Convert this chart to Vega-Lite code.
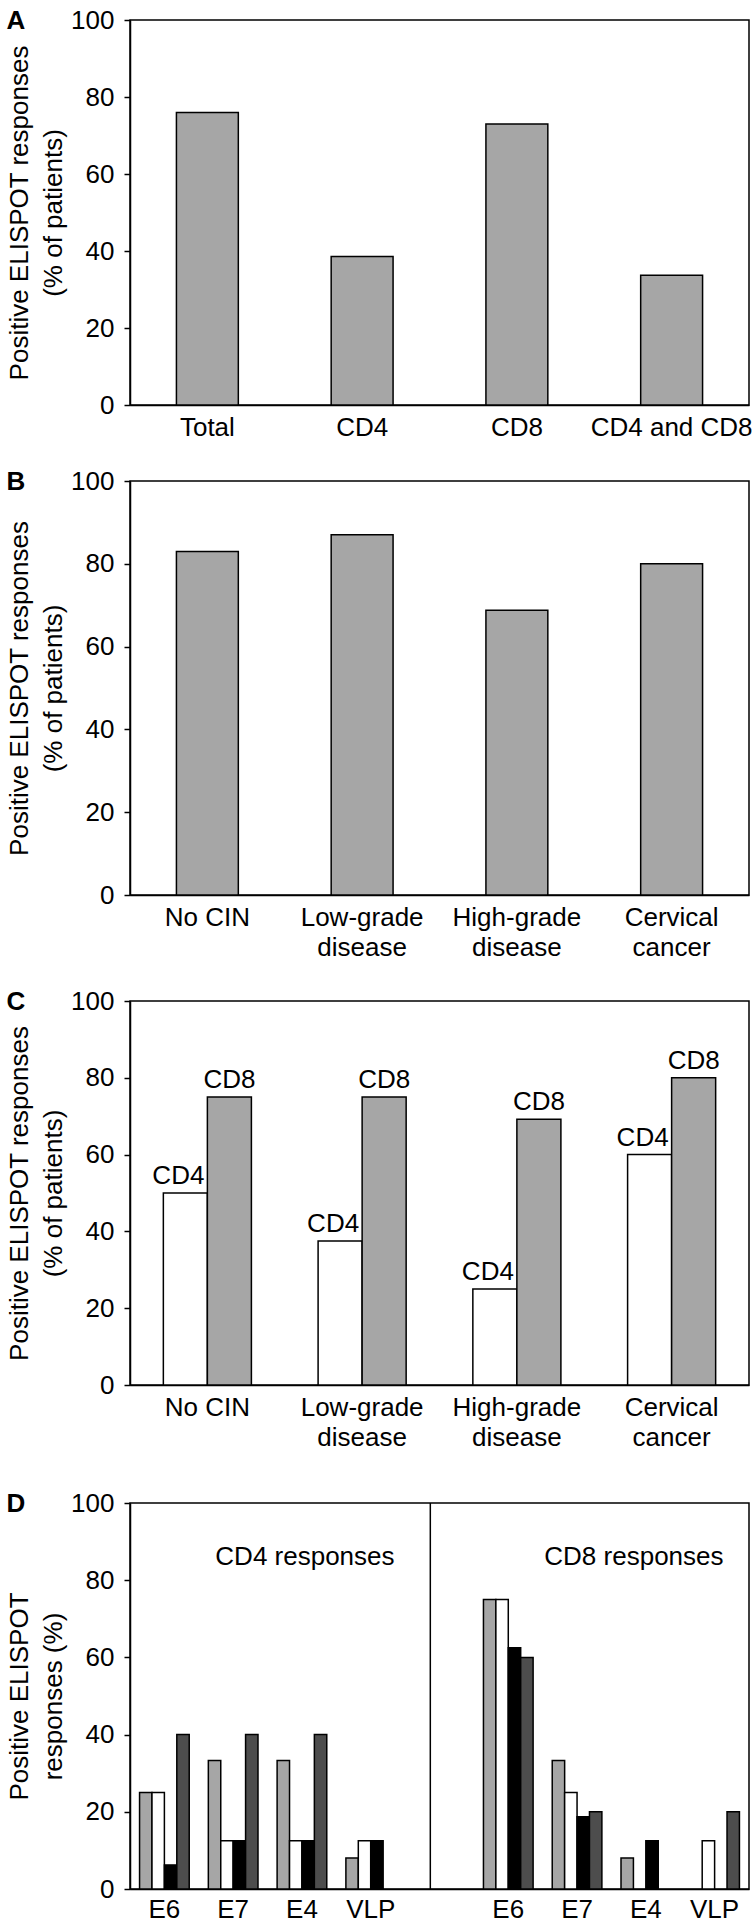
{
  "$schema": "https://vega.github.io/schema/vega-lite/v6.json",
  "padding": {"left": 5, "top": 6, "right": 0, "bottom": 0},
  "config": {
    "font": "Liberation Sans",
    "view": {"stroke": "black", "strokeWidth": 1.5},
    "axis": {"labelFont": "Liberation Sans", "labelFontSize": 26, "labelColor": "black", "titleFont": "Liberation Sans", "titleFontSize": 26, "titleFontWeight": "normal", "titleColor": "black", "domainColor": "black", "domainWidth": 1.5, "tickColor": "black", "tickWidth": 1.5, "grid": false, "labelOverlap": false},
    "axisY": {"tickSize": 6, "labelPadding": 10, "titlePadding": 4, "titleLineHeight": 34},
    "axisX": {"ticks": false, "labelAngle": 0, "labelPadding": 9, "labelLineHeight": 30, "title": null},
    "title": {"fontSize": 26, "fontWeight": "bold", "anchor": "start", "frame": "bounds", "baseline": "top", "offset": -27, "color": "black"}
  },
  "spacing": 26,
  "resolve": {"scale": {"color": "independent", "xOffset": "independent"}},
  "vconcat": [
    {
      "title": {"text": "A"},
      "width": 619, "height": 385,
      "data": {"values": [
        {"group": "Total", "value": 76},
        {"group": "CD4", "value": 38.6},
        {"group": "CD8", "value": 73},
        {"group": "CD4 and CD8", "value": 33.7}
      ]},
      "mark": {"type": "bar", "color": "#a6a6a6", "stroke": "black", "strokeWidth": 1.5},
      "encoding": {
        "x": {"field": "group", "type": "nominal", "sort": null, "scale": {"paddingInner": 0.6, "paddingOuter": 0.3}, "axis": {"title": null}},
        "y": {"field": "value", "type": "quantitative", "scale": {"domain": [0, 100], "nice": false}, "axis": {"title": ["Positive ELISPOT responses", "(% of patients)"], "values": [0, 20, 40, 60, 80, 100]}}
      }
    },
    {
      "title": {"text": "B"},
      "width": 619, "height": 414,
      "data": {"values": [
        {"group": "No CIN", "value": 83},
        {"group": "Low-grade|disease", "value": 87},
        {"group": "High-grade|disease", "value": 68.8},
        {"group": "Cervical|cancer", "value": 80}
      ]},
      "mark": {"type": "bar", "color": "#a6a6a6", "stroke": "black", "strokeWidth": 1.5},
      "encoding": {
        "x": {"field": "group", "type": "nominal", "sort": null, "scale": {"paddingInner": 0.6, "paddingOuter": 0.3}, "axis": {"title": null, "labelExpr": "split(datum.label, '|')"}},
        "y": {"field": "value", "type": "quantitative", "scale": {"domain": [0, 100], "nice": false}, "axis": {"title": ["Positive ELISPOT responses", "(% of patients)"], "values": [0, 20, 40, 60, 80, 100]}}
      }
    },
    {
      "spacing": 38,
      "resolve": {"scale": {"color": "independent", "xOffset": "independent"}},
      "vconcat": [
        {
          "title": {"text": "C"},
          "width": 619, "height": 384,
          "data": {"values": [
            {"group": "No CIN", "type": "CD4", "value": 50},
            {"group": "No CIN", "type": "CD8", "value": 75},
            {"group": "Low-grade|disease", "type": "CD4", "value": 37.5},
            {"group": "Low-grade|disease", "type": "CD8", "value": 75},
            {"group": "High-grade|disease", "type": "CD4", "value": 25},
            {"group": "High-grade|disease", "type": "CD8", "value": 69.2},
            {"group": "Cervical|cancer", "type": "CD4", "value": 60},
            {"group": "Cervical|cancer", "type": "CD8", "value": 80}
          ]},
          "encoding": {
            "x": {"field": "group", "type": "nominal", "sort": null, "scale": {"paddingInner": 0.431, "paddingOuter": 0.2155}, "axis": {"title": null, "labelExpr": "split(datum.label, '|')"}},
            "xOffset": {"field": "type", "type": "nominal", "scale": {"domain": ["CD4", "CD8"], "paddingInner": 0, "paddingOuter": 0}},
            "y": {"field": "value", "type": "quantitative", "scale": {"domain": [0, 100], "nice": false}, "axis": {"title": ["Positive ELISPOT responses", "(% of patients)"], "values": [0, 20, 40, 60, 80, 100]}}
          },
          "layer": [
            {
              "mark": {"type": "bar", "stroke": "black", "strokeWidth": 1.5},
              "encoding": {"color": {"field": "type", "type": "nominal", "scale": {"domain": ["CD4", "CD8"], "range": ["#ffffff", "#a6a6a6"]}, "legend": null}}
            },
            {
              "transform": [{"filter": "datum.type == 'CD8'"}],
              "mark": {"type": "text", "fontSize": 26, "baseline": "alphabetic", "dy": -9, "color": "black"},
              "encoding": {"text": {"field": "type"}}
            },
            {
              "transform": [{"filter": "datum.type == 'CD4'"}],
              "mark": {"type": "text", "fontSize": 26, "baseline": "alphabetic", "dy": -9, "dx": -7, "color": "black"},
              "encoding": {"text": {"field": "type"}}
            }
          ]
        },
        {
          "title": {"text": "D"},
          "width": 619, "height": 386,
          "data": {"values": [
            {"cat": "L-E6", "series": "No CIN", "value": 25},
            {"cat": "L-E6", "series": "Low-grade disease", "value": 25},
            {"cat": "L-E6", "series": "High-grade disease", "value": 6.25},
            {"cat": "L-E6", "series": "Cervical cancer", "value": 40},
            {"cat": "L-E7", "series": "No CIN", "value": 33.3},
            {"cat": "L-E7", "series": "Low-grade disease", "value": 12.5},
            {"cat": "L-E7", "series": "High-grade disease", "value": 12.5},
            {"cat": "L-E7", "series": "Cervical cancer", "value": 40},
            {"cat": "L-E4", "series": "No CIN", "value": 33.3},
            {"cat": "L-E4", "series": "Low-grade disease", "value": 12.5},
            {"cat": "L-E4", "series": "High-grade disease", "value": 12.5},
            {"cat": "L-E4", "series": "Cervical cancer", "value": 40},
            {"cat": "L-VLP", "series": "No CIN", "value": 8},
            {"cat": "L-VLP", "series": "Low-grade disease", "value": 12.5},
            {"cat": "L-VLP", "series": "High-grade disease", "value": 12.5},
            {"cat": "R-E6", "series": "No CIN", "value": 75},
            {"cat": "R-E6", "series": "Low-grade disease", "value": 75},
            {"cat": "R-E6", "series": "High-grade disease", "value": 62.5},
            {"cat": "R-E6", "series": "Cervical cancer", "value": 60},
            {"cat": "R-E7", "series": "No CIN", "value": 33.3},
            {"cat": "R-E7", "series": "Low-grade disease", "value": 25},
            {"cat": "R-E7", "series": "High-grade disease", "value": 18.75},
            {"cat": "R-E7", "series": "Cervical cancer", "value": 20},
            {"cat": "R-E4", "series": "No CIN", "value": 8},
            {"cat": "R-E4", "series": "High-grade disease", "value": 12.5},
            {"cat": "R-VLP", "series": "Low-grade disease", "value": 12.5},
            {"cat": "R-VLP", "series": "Cervical cancer", "value": 20}
          ]},
          "layer": [
            {
              "mark": {"type": "bar", "stroke": "black", "strokeWidth": 1.5},
              "encoding": {
                "x": {"field": "cat", "type": "nominal", "scale": {"domain": ["L-E6", "L-E7", "L-E4", "L-VLP", "gap", "R-E6", "R-E7", "R-E4", "R-VLP"], "paddingInner": 0.278, "paddingOuter": 0.139}, "axis": {"title": null, "labelPadding": 7, "labelExpr": "datum.label == 'gap' ? '' : substring(datum.label, 2)"}},
                "xOffset": {"field": "series", "type": "nominal", "scale": {"domain": ["No CIN", "Low-grade disease", "High-grade disease", "Cervical cancer"], "paddingInner": 0, "paddingOuter": 0}},
                "y": {"field": "value", "type": "quantitative", "scale": {"domain": [0, 100], "nice": false}, "axis": {"title": ["Positive ELISPOT", "responses (%)"], "values": [0, 20, 40, 60, 80, 100]}},
                "color": {"field": "series", "type": "nominal", "scale": {"domain": ["No CIN", "Low-grade disease", "High-grade disease", "Cervical cancer"], "range": ["#a6a6a6", "#ffffff", "#000000", "#4d4d4d"]}, "legend": null}
              }
            },
            {
              "data": {"values": [{"cat": "gap"}]},
              "mark": {"type": "rule", "color": "black", "strokeWidth": 1.5},
              "encoding": {"x": {"field": "cat", "type": "nominal", "bandPosition": 0.315}}
            },
            {
              "data": {"values": [{"cat": "L-E4", "label": "CD4 responses", "value": 84}]},
              "mark": {"type": "text", "fontSize": 26, "baseline": "alphabetic", "color": "black"},
              "encoding": {"x": {"field": "cat", "type": "nominal", "bandPosition": 0.56}, "y": {"field": "value", "type": "quantitative"}, "text": {"field": "label"}}
            },
            {
              "data": {"values": [{"cat": "R-E4", "label": "CD8 responses", "value": 84}]},
              "mark": {"type": "text", "fontSize": 26, "baseline": "alphabetic", "color": "black"},
              "encoding": {"x": {"field": "cat", "type": "nominal", "bandPosition": 0.26}, "y": {"field": "value", "type": "quantitative"}, "text": {"field": "label"}}
            }
          ]
        }
      ]
    }
  ]
}
